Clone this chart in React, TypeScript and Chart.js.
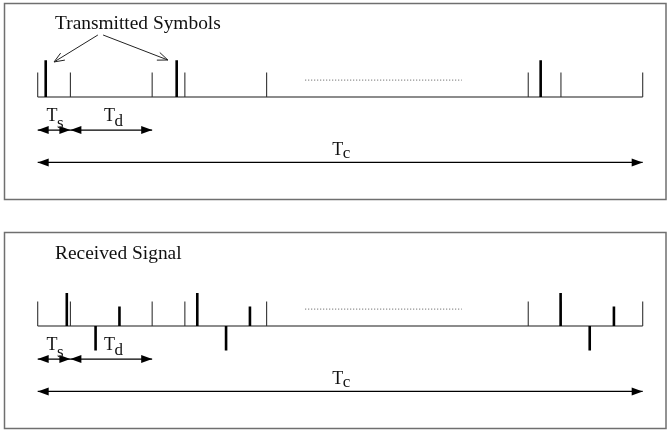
import React, { useEffect, useRef } from "react";
import { Chart, registerables } from "chart.js";

Chart.register(...registerables);

// ---------- data (time in units of Ts, amplitude in units of the frame-marker height)
const timeSpan = [0, 18.5];
const frameMarkTimes = [0, 1, 3.5, 4.5, 7, 15, 16, 18.5];
const frameMarkHeights = [1, 1, 1, 1, 1, 1, 1, 1];
const txTimes = [0.245, 4.25, 15.38];
const txAmps = [1.5, 1.5, 1.5];
const rxTimes = [0.89, 1.77, 2.5, 4.88, 5.76, 6.49, 15.99, 16.88, 17.62];
const rxAmps = [1.35, -1.0, 0.8, 1.35, -1.0, 0.8, 1.35, -1.0, 0.8];
const ellipsisSpan = [8.18, 12.97];
const ellipsisLevel = [0.69];

const spanMain = ["T", "T", "T"];
const spanSub = ["s", "d", "c"];
const spanStarts = [0, 1, 0];
const spanEnds = [1, 3.5, 18.5];
const spanLevels = [-1.35, -1.35, -2.67];
const spanLabelX = [0.27, 2.03, 9.01];
const spanLabelY = [-0.98, -0.98, -2.37];
const spanSubDrop = [7, 5, 3];

const titles = ["Transmitted Symbols", "Received Signal"];
const titleX = [0.53, 0.53];
const titleY = [2.76, 2.72];

const pointerFromX = [1.84, 2.0];
const pointerFromY = [2.53, 2.53];
const pointerToX = [0.5, 3.98];
const pointerToY = [1.43, 1.51];

// ---------- helpers
type P = { x: number; y: number | null };

function stems(times: number[], amps: number[]): P[] {
  const pts: P[] = [];
  times.forEach((t, i) => {
    pts.push({ x: t, y: 0 }, { x: t, y: amps[i] }, { x: t, y: null });
  });
  return pts;
}

function segments(x0: number[], y0: number[], x1: number[], y1: number[]): P[] {
  const pts: P[] = [];
  x0.forEach((_, i) => {
    pts.push({ x: x0[i], y: y0[i] }, { x: x1[i], y: y1[i] }, { x: x1[i], y: null });
  });
  return pts;
}

function filledHead(ctx: CanvasRenderingContext2D, tx: number, ty: number, ang: number) {
  const len = 11;
  const half = 4;
  const bx = tx - Math.cos(ang) * len;
  const by = ty - Math.sin(ang) * len;
  const nx = -Math.sin(ang) * half;
  const ny = Math.cos(ang) * half;
  ctx.beginPath();
  ctx.moveTo(tx, ty);
  ctx.lineTo(bx + nx, by + ny);
  ctx.lineTo(bx - nx, by - ny);
  ctx.closePath();
  ctx.fill();
}

function openHead(ctx: CanvasRenderingContext2D, tx: number, ty: number, ang: number) {
  const len = 11;
  const spread = 0.38;
  ctx.beginPath();
  ctx.moveTo(tx - Math.cos(ang - spread) * len, ty - Math.sin(ang - spread) * len);
  ctx.lineTo(tx, ty);
  ctx.lineTo(tx - Math.cos(ang + spread) * len, ty - Math.sin(ang + spread) * len);
  ctx.stroke();
}

const overlay = {
  id: "overlay",
  beforeDatasetsDraw(chart: any) {
    const ctx = chart.ctx as CanvasRenderingContext2D;
    ctx.save();
    ctx.strokeStyle = "#6f6f6f";
    ctx.lineWidth = 1.5;
    ctx.strokeRect(4.5, 3.5, chart.width - 6.5, chart.height - 6);
    ctx.restore();
  },
  afterDatasetsDraw(chart: any, _args: any, opts: any) {
    const ctx = chart.ctx as CanvasRenderingContext2D;
    const xs = chart.scales.x;
    const ys = chart.scales.y;
    const px = (v: number) => xs.getPixelForValue(v);
    const py = (v: number) => ys.getPixelForValue(v);
    const panel = opts.panel as number;
    ctx.save();
    ctx.fillStyle = "#000";
    ctx.strokeStyle = "#000";
    // span arrow heads
    spanStarts.forEach((s, i) => {
      const y = py(spanLevels[i]);
      filledHead(ctx, px(s), y, Math.PI);
      filledHead(ctx, px(spanEnds[i]), y, 0);
    });
    // pointer heads (transmit panel only)
    if (panel === 0) {
      ctx.strokeStyle = "#222";
      ctx.lineWidth = 1;
      pointerToX.forEach((_, i) => {
        const x0 = px(pointerFromX[i]);
        const y0 = py(pointerFromY[i]);
        const x1 = px(pointerToX[i]);
        const y1 = py(pointerToY[i]);
        openHead(ctx, x1, y1, Math.atan2(y1 - y0, x1 - x0));
      });
    }
    // labels
    ctx.fillStyle = "#111";
    ctx.textBaseline = "alphabetic";
    ctx.textAlign = "left";
    ctx.font = '19.4px "Liberation Serif", "Times New Roman", serif';
    ctx.fillText(titles[panel], px(titleX[panel]), py(titleY[panel]));
    spanMain.forEach((m, i) => {
      const x = px(spanLabelX[i]);
      const y = py(spanLabelY[i]);
      ctx.font = '18px "Liberation Serif", "Times New Roman", serif';
      ctx.fillText(m, x, y);
      const w = ctx.measureText(m).width;
      ctx.font = '17px "Liberation Serif", "Times New Roman", serif';
      ctx.fillText(spanSub[i], x + w - 0.5, y + spanSubDrop[i]);
    });
    ctx.restore();
  },
};

function Panel({ panel, top }: { panel: number; top: number }) {
  const ref = useRef<HTMLCanvasElement | null>(null);
  useEffect(() => {
    if (!ref.current) return;
    const datasets: any[] = [];
    if (panel === 0) {
      datasets.push({
        label: "Transmitted symbols",
        data: stems(txTimes, txAmps),
        borderColor: "#000",
        borderWidth: 2.6,
      });
      datasets.push({
        label: "pointers",
        data: segments(pointerFromX, pointerFromY, pointerToX, pointerToY),
        borderColor: "#222",
        borderWidth: 1,
      });
    } else {
      datasets.push({
        label: "Received signal",
        data: stems(rxTimes, rxAmps),
        borderColor: "#000",
        borderWidth: 2.6,
      });
    }
    datasets.push({
      label: "frame marks",
      data: stems(frameMarkTimes, frameMarkHeights),
      borderColor: "#333",
      borderWidth: 1.1,
    });
    datasets.push({
      label: "spans",
      data: segments(spanStarts, spanLevels, spanEnds, spanLevels),
      borderColor: "#000",
      borderWidth: 1.2,
    });
    datasets.push({
      label: "ellipsis",
      data: segments([ellipsisSpan[0]], ellipsisLevel, [ellipsisSpan[1]], ellipsisLevel),
      borderColor: "#555",
      borderWidth: 1,
      borderDash: [1, 2],
    });
    datasets.push({
      label: "baseline",
      data: segments([timeSpan[0]], [0], [timeSpan[1]], [0]),
      borderColor: "#666",
      borderWidth: 1.6,
    });
    datasets.forEach((d) => {
      d.showLine = true;
      d.spanGaps = false;
      d.pointRadius = 0;
      d.clip = false;
      d.borderCapStyle = "butt";
      d.fill = false;
    });
    const chart = new Chart(ref.current, {
      type: "scatter",
      data: { datasets },
      options: {
        animation: false,
        responsive: false,
        events: [],
        layout: { padding: { left: 37.7, right: 25.3, top: 23.5, bottom: 7 } },
        scales: {
          x: { type: "linear", min: timeSpan[0], max: timeSpan[1], display: false },
          y: { type: "linear", min: -4, max: 3, display: false },
        },
        plugins: {
          legend: { display: false },
          tooltip: { enabled: false },
          overlay: { panel },
        } as any,
      },
      plugins: [overlay],
    });
    return () => chart.destroy();
  }, [panel]);
  return (
    <div style={{ position: "absolute", left: 0, top, width: 668, height: 202 }}>
      <canvas ref={ref} width={668} height={202} style={{ display: "block" }} />
    </div>
  );
}

export default function App() {
  return (
    <div style={{ position: "absolute", left: 0, top: 0, width: 668, height: 431, background: "#fff" }}>
      <Panel panel={0} top={0} />
      <Panel panel={1} top={229} />
    </div>
  );
}
